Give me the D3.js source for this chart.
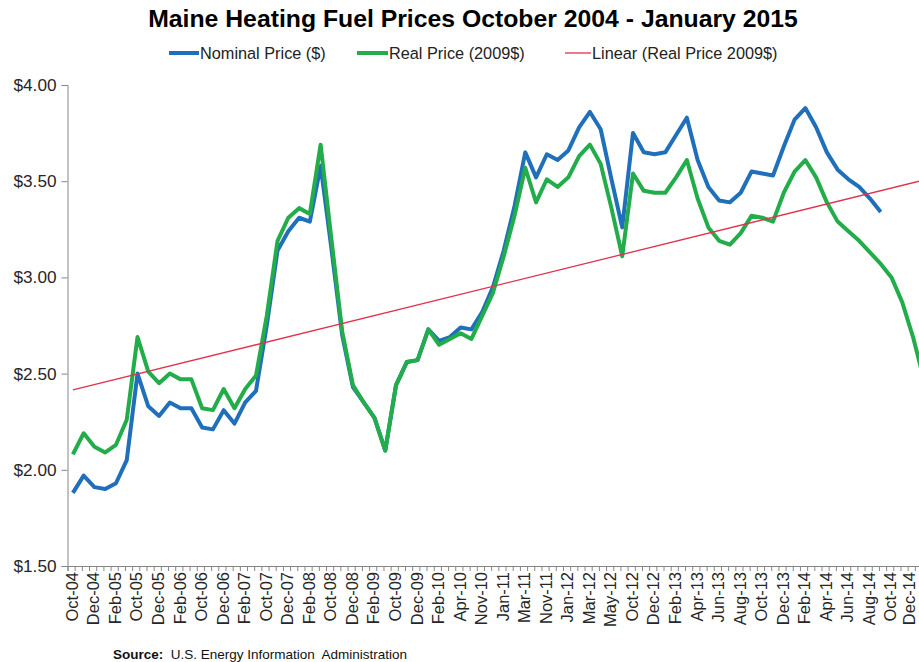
<!DOCTYPE html>
<html>
<head>
<meta charset="utf-8">
<script src="https://cdnjs.cloudflare.com/ajax/libs/d3/7.8.5/d3.min.js"></script>
<style>
  body { margin: 0; background: #fff; }
  svg { display: block; font-family: "Liberation Sans", Arial, sans-serif; }
</style>
</head>
<body>
<svg id="chart" width="919" height="662"></svg>
<script>
// ---- Data ----
const tickLabels = ["Oct-04","Dec-04","Feb-05","Oct-05","Dec-05","Feb-06","Oct-06","Dec-06","Feb-07","Oct-07",
  "Dec-07","Feb-08","Oct-08","Dec-08","Feb-09","Oct-09","Dec-09","Feb-10","Apr-10","Nov-10",
  "Jan-11","Mar-11","Nov-11","Jan-12","Mar-12","May-12","Oct-12","Dec-12","Feb-13","Apr-13",
  "Jun-13","Aug-13","Oct-13","Dec-13","Feb-14","Apr-14","Jun-14","Aug-14","Oct-14","Dec-14"];

const nominalPrice = [1.88,1.97,1.91,1.90,1.93,2.05,2.50,2.33,2.28,2.35,
  2.32,2.32,2.22,2.21,2.31,2.24,2.35,2.41,2.75,3.14,
  3.24,3.31,3.29,3.58,3.15,2.70,2.43,2.35,2.27,2.10,
  2.44,2.56,2.57,2.73,2.67,2.69,2.74,2.73,2.82,2.95,
  3.14,3.37,3.65,3.52,3.64,3.61,3.66,3.78,3.86,3.77,
  3.51,3.26,3.75,3.65,3.64,3.65,3.74,3.83,3.61,3.47,
  3.40,3.39,3.44,3.55,3.54,3.53,3.68,3.82,3.88,3.78,
  3.65,3.56,3.51,3.47,3.41,3.34];

const realPrice = [2.08,2.19,2.12,2.09,2.13,2.26,2.69,2.51,2.45,2.50,
  2.47,2.47,2.32,2.31,2.42,2.32,2.42,2.49,2.80,3.19,
  3.31,3.36,3.33,3.69,3.20,2.72,2.44,2.35,2.27,2.10,
  2.44,2.56,2.57,2.73,2.65,2.68,2.71,2.68,2.80,2.92,
  3.11,3.32,3.57,3.39,3.51,3.47,3.52,3.63,3.69,3.59,
  3.36,3.11,3.54,3.45,3.44,3.44,3.52,3.61,3.41,3.26,
  3.19,3.17,3.23,3.32,3.31,3.29,3.44,3.55,3.61,3.52,
  3.39,3.29,3.24,3.19,3.13,3.07,3.00,2.87,2.69,2.47];

// Linear trendline of the real price: values at first and last point
const trendEnds = [2.415, 3.506];

const yTicks = [1.5, 2.0, 2.5, 3.0, 3.5, 4.0];
const seriesNames = ["Nominal Price ($)", "Real Price (2009$)", "Linear (Real Price 2009$)"];
const seriesColors = ["#1f6fba", "#22ad4a", "#e2314d"];

// ---- Chart ----
const svg = d3.select("#chart");
const W = 919;
const nCat = realPrice.length;
const plot = { left: 67.5, right: 929.2, top: 85, bottom: 566 };

const x = d3.scalePoint().domain(d3.range(nCat)).range([plot.left, plot.right]).padding(0.5);
const y = d3.scaleLinear().domain([1.5, 4]).range([plot.bottom, plot.top]);
const tickScale = d3.scaleLinear().domain([0, nCat * 1.5]).range([plot.left, plot.right]);

// Title
const title = svg.append("text")
  .attr("x", 473).attr("y", 27)
  .attr("text-anchor", "middle")
  .attr("font-weight", "bold")
  .attr("font-size", 22)
  .attr("fill", "#000")
  .text("Maine Heating Fuel Prices October 2004 - January 2015");
const tw = title.node().getComputedTextLength();
title.attr("font-size", 22 * 650 / tw);

// Legend
const legendItems = [
  { name: seriesNames[0], color: seriesColors[0], x0: 169, x1: 199, w: 4 },
  { name: seriesNames[1], color: seriesColors[1], x0: 357, x1: 388, w: 4 },
  { name: seriesNames[2], color: seriesColors[2], x0: 565, x1: 591, w: 1.3 }
];
legendItems.forEach(d => {
  svg.append("line").attr("x1", d.x0).attr("x2", d.x1).attr("y1", 53).attr("y2", 53)
    .attr("stroke", d.color).attr("stroke-width", d.w);
  svg.append("text").attr("x", d.x1 + 1).attr("y", 59)
    .attr("font-size", 16.3).attr("fill", "#222").text(d.name);
});

// Y axis
const yAxis = d3.axisLeft(y).tickValues(yTicks).tickSize(6).tickFormat(d3.format("$.2f"));
const gy = svg.append("g").attr("transform", `translate(${plot.left},0)`).call(yAxis);
gy.select(".domain").attr("stroke", "#868686");
gy.selectAll(".tick line").attr("stroke", "#868686");
gy.selectAll(".tick text").attr("font-size", 17.2).attr("fill", "#262626")
  .attr("font-family", "Liberation Sans, Arial, sans-serif").attr("x", -11);

// X axis (tick marks)
const gx = svg.append("g").attr("transform", `translate(0,${plot.bottom})`)
  .call(d3.axisBottom(tickScale).tickValues(d3.range(0, nCat * 1.5 + 1)).tickSize(5).tickFormat(""));
gx.select(".domain").attr("stroke", "#868686");
gx.selectAll(".tick line").attr("stroke", "#868686");

// X labels (last one kept inside the page edge)
svg.append("g").selectAll("text").data(tickLabels).join("text")
  .attr("transform", (d, i) => `translate(${Math.min(x(i * 2), W - 9)},${plot.bottom + 6}) rotate(-90)`)
  .attr("text-anchor", "end")
  .attr("dy", "0.3em")
  .attr("font-size", 16.5)
  .attr("fill", "#262626")
  .text(d => d);

// Lines
const line = d3.line().x((d, i) => x(i)).y(d => y(d));
svg.append("path").datum(nominalPrice).attr("d", line)
  .attr("fill", "none").attr("stroke", seriesColors[0]).attr("stroke-width", 4)
  .attr("stroke-linejoin", "round");
svg.append("path").datum(realPrice).attr("d", line)
  .attr("fill", "none").attr("stroke", seriesColors[1]).attr("stroke-width", 4)
  .attr("stroke-linejoin", "round");

// Trendline
svg.append("line")
  .attr("x1", x(0)).attr("y1", y(trendEnds[0]))
  .attr("x2", x(nCat - 1)).attr("y2", y(trendEnds[1]))
  .attr("stroke", seriesColors[2]).attr("stroke-width", 1.3);

// Source
const src = svg.append("text").attr("x", 113).attr("y", 659).attr("font-size", 13.5).attr("fill", "#111");
src.append("tspan").attr("font-weight", "bold").text("Source:");
src.append("tspan").attr("xml:space", "preserve").text("  U.S. Energy Information  Administration");
</script>
</body>
</html>
